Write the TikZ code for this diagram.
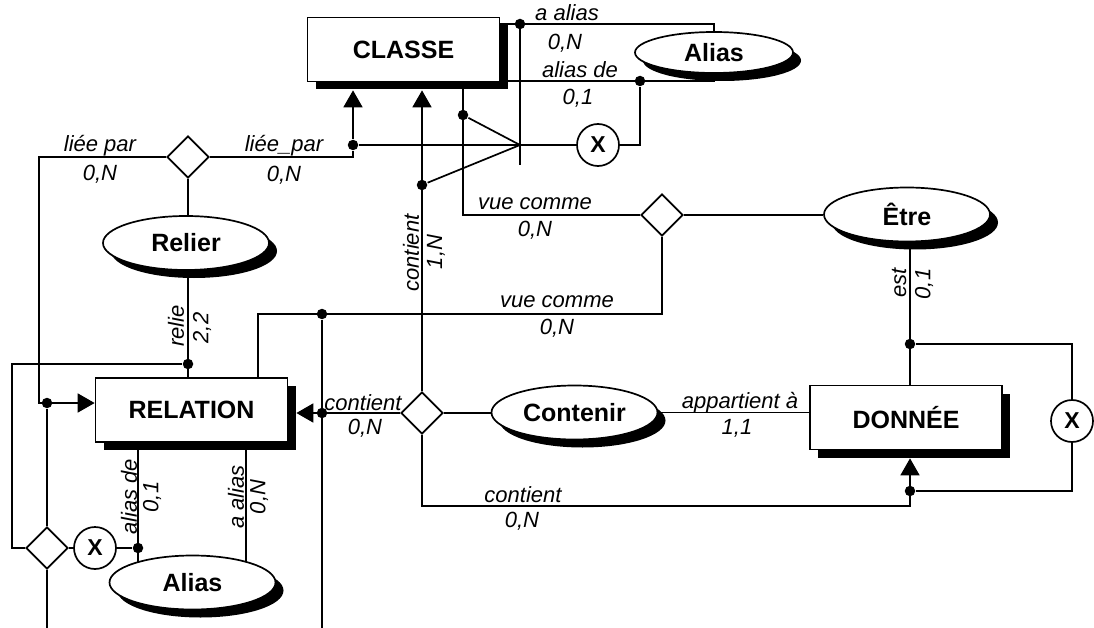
\documentclass[tikz,border=0pt]{standalone}
\usepackage{fontspec}
\setmainfont{Liberation Sans}
\usetikzlibrary{shapes.geometric,arrows.meta,shadows,calc,backgrounds}
\begin{document}
\begin{tikzpicture}[x=1pt,y=-1pt,line width=1.7pt,
  shd/.style={drop shadow={shadow xshift=8pt,shadow yshift=-8pt,fill=black,opacity=1}},
  ent/.style={draw,fill=white,rectangle,minimum width=192pt,minimum height=64pt,inner sep=0pt,font=\fontsize{25}{25}\selectfont\bfseries,shd},
  rel/.style={draw,fill=white,ellipse,minimum width=166pt,minimum height=54pt,inner sep=0pt,font=\fontsize{25}{25}\selectfont\bfseries,shd},
  dia/.style={draw,fill=white,diamond,minimum size=42pt,inner sep=0pt},
  xc/.style={draw,fill=white,circle,minimum size=42pt,inner sep=0pt,font=\fontsize{23}{23}\selectfont\bfseries},
  dot/.style={circle,fill=black,inner sep=0pt,minimum size=10.5pt},
  lab/.style={inner sep=0pt,font=\fontsize{22}{22}\selectfont\itshape},
  arr/.style={-{Triangle[length=17pt,width=19pt]}}]
\useasboundingbox (0,0) rectangle (1094,628);
% entities
\node[ent] (CLASSE) at (403.5,49.5) {CLASSE};
\node[ent] (RELATION) at (191.5,410) {RELATION};
\node[ent] (DONNEE) at (906,417.5) {DONNÉE};
% relations
\node[rel,minimum width=158pt,minimum height=41pt] (AliasT) at (714,52.5) {Alias};
\node[rel] (Relier) at (186,243) {Relier};
\node[rel] (Etre) at (907,214.5) {Être};
\node[rel] (Contenir) at (574.5,412.5) {Contenir};
\node[rel] (AliasB) at (192.5,582.5) {Alias};
% diamonds
\node[dia] (dLiee) at (188,157) {};
\node[dia] (dVue) at (662,215) {};
\node[dia] (dCont) at (422,413) {};
\node[dia] (dAlias) at (47,548) {};
% X circles
\node[xc] (xTop) at (598,145) {X};
\node[xc] (xRight) at (1072,421) {X};
\node[xc] (xLeft) at (95,548) {X};
% junction dots
\node[dot] (j1) at (353,145) {};
\node[dot] (j2) at (520,24) {};
\node[dot] (j3) at (640,81) {};
\node[dot] (j4) at (463,115) {};
\node[dot] (j5) at (422,185) {};
\node[dot] (j6) at (322,314) {};
\node[dot] (j7) at (188,364) {};
\node[dot] (j8) at (47,403) {};
\node[dot] (j9) at (322,413) {};
\node[dot] (j10) at (910,344) {};
\node[dot] (j11) at (910,491) {};
\node[dot] (j12) at (138,548) {};
% free coordinates
\coordinate (fk) at (520,145);
\coordinate (fkb) at (520,165);
\coordinate (c258) at (258,314);
\coordinate (b1) at (322,628);
\coordinate (b2) at (47,628);
\coordinate (c506) at (910,506);
\coordinate (a246) at (246,500);
\begin{pgfonlayer}{background}
\fill[white] (0,0) rectangle (1094,628);
\begin{scope}[line width=1.7pt]
\draw (CLASSE.east |- j2) -| (AliasT.north);
\draw (CLASSE.east |- j3) -| (AliasT.south);
\draw (j2.center) -- (fkb);
\draw (j1) -- (xTop);
\draw (xTop) -| (j3);
\draw (j4) -- (fk);
\draw (j5) -- (fk);
\draw[arr] (j1) -- ($(CLASSE.south -| j1)+(0,8)$);
\draw (dLiee.east) -| (j1);
\draw[arr] (dCont.north) -- ($(CLASSE.south -| dCont)+(0,8)$);
\draw (CLASSE.south -| j4) |- (dVue.west);
\draw (dVue.east) -- (Etre.west |- dVue);
\draw (dVue.south) |- (c258) -- (RELATION.north -| c258);
\draw (j6) -- (b1);
\draw[arr] (dCont.west) -- ($(RELATION.east |- dCont)+(8,0)$);
\draw (dCont.east) -- (Contenir.west |- dCont);
\draw (Contenir.east) -- (DONNEE.west |- Contenir.east);
\draw[arr] (dCont.south) |- (c506) -- ($(DONNEE.south -| c506)+(0,8)$);
\draw (Etre.south -| j10) -- (DONNEE.north -| j10);
\draw (j11) -| (xRight) |- (j10);
\draw (dLiee.south) -- (Relier.north -| dLiee);
\draw (Relier.south -| j7) -- (RELATION.north -| j7);
\draw (dAlias.west) -- ++(-13,0) |- (j7);
\draw[arr] (dLiee.west) -| ($(j8)+(-8,0)$) -- (RELATION.west |- j8);
\draw (j8) -- (dAlias.north);
\draw (dAlias.south) -- (b2);
\draw (dAlias.east) -- (xLeft) -- (j12);
\draw (RELATION.south -| j12) -- (AliasB.center -| j12);
\draw (RELATION.south -| a246) -- (AliasB.center -| a246);
\end{scope}
\end{pgfonlayer}
% labels
\node[lab] (t1) at (567,13) {a alias};
\node[lab] (t2) at (565,43) {0,N};
\node[lab] (t3) at (580,70) {alias de};
\node[lab] (t4) at (578,98) {0,1};
\node[lab] (t5) at (100,146) {liée par};
\node[lab] (t6) at (100,174) {0,N};
\node[lab] (t7) at (284,146) {liée\_par};
\node[lab] (t8) at (284,175) {0,N};
\node[lab] (t9) at (535,204) {vue comme};
\node[lab] (t10) at (535,230) {0,N};
\node[lab] (t11) at (557,302) {vue comme};
\node[lab] (t12) at (557,328) {0,N};
\node[lab,rotate=90] (t13) at (411,253) {contient};
\node[lab,rotate=90] (t14) at (436,252) {1,N};
\node[lab,rotate=90] (t15) at (176,326) {relie};
\node[lab,rotate=90] (t16) at (202,328) {2,2};
\node[lab,rotate=90] (t17) at (899,283) {est};
\node[lab,rotate=90] (t18) at (924,284) {0,1};
\node[lab] (t19) at (363,403) {contient};
\node[lab] (t20) at (365,428) {0,N};
\node[lab] (t21) at (740,403) {appartient à};
\node[lab] (t22) at (737,428) {1,1};
\node[lab] (t23) at (523,495) {contient};
\node[lab] (t24) at (522,521) {0,N};
\node[lab,rotate=90] (t25) at (129,497) {alias de};
\node[lab,rotate=90] (t26) at (152,497) {0,1};
\node[lab,rotate=90] (t27) at (236,497) {a alias};
\node[lab,rotate=90] (t28) at (259,497) {0,N};
\end{tikzpicture}
\end{document}
